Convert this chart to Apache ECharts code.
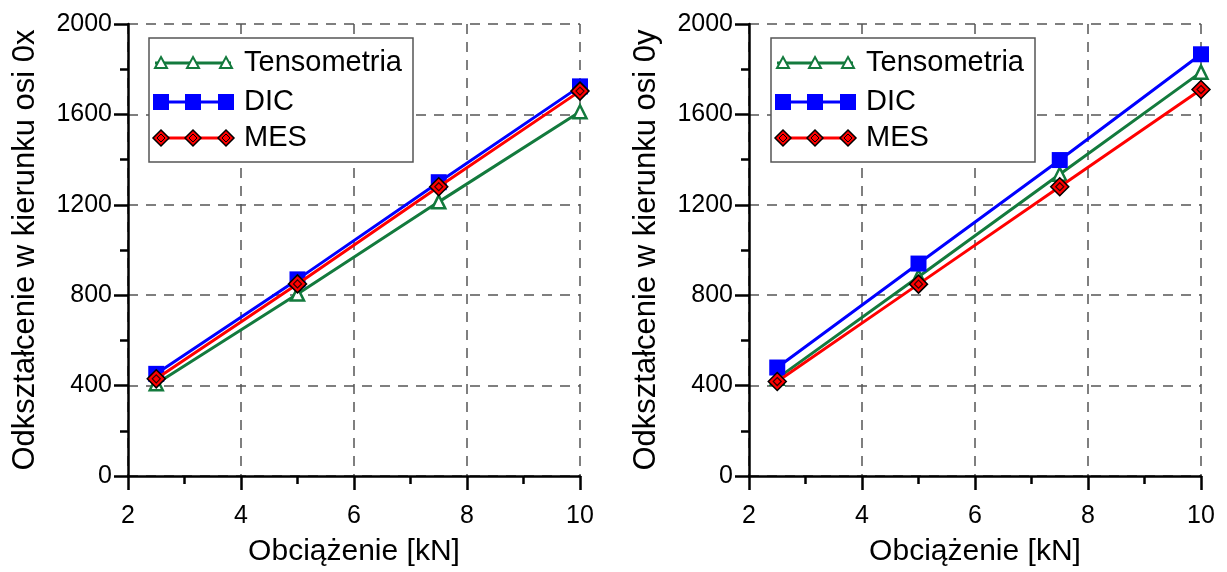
<!DOCTYPE html>
<html>
<head>
<meta charset="utf-8">
<script src="https://cdn.jsdelivr.net/npm/echarts@6/dist/echarts.min.js"></script>
<style>
  html, body { margin: 0; padding: 0; background: #fff; }
  #chart { width: 1227px; height: 572px; }
</style>
</head>
<body>
<div id="chart"></div>
<script>
// data
const loads = [2.5, 5, 7.5, 10]
const xTicks = [2, 4, 6, 8, 10]
const yTicks = [0, 400, 800, 1200, 1600, 2000]
const seriesNames = ["Tensometria", "DIC", "MES"]

// panel 0x
const tensX = [408, 805, 1213, 1612]
const dicX = [452, 870, 1300, 1724]
const mesX = [430, 850, 1280, 1703]
// panel 0y
const tensY = [432, 882, 1335, 1787]
const dicY = [480, 940, 1398, 1866]
const mesY = [418, 849, 1280, 1710]

const GREEN = "#137a3d"
const BLUE = "#0000ff"
const RED = "#ff0000"
const FONT = "Liberation Sans"

const chart = echarts.init(document.getElementById("chart"))

const pairs = (ys) => loads.map((x, i) => [x, ys[i]])

const gridLine = { show: true, lineStyle: { color: "#555", width: 1.5, type: [10, 8] } }

function xAxis(gridIndex) {
  return {
    gridIndex,
    type: "value",
    min: xTicks[0],
    max: xTicks[xTicks.length - 1],
    interval: xTicks[1] - xTicks[0],
    name: "Obciążenie [kN]",
    nameLocation: "middle",
    nameGap: 61,
    nameTextStyle: { fontFamily: FONT, fontSize: 30, color: "#000" },
    axisLine: { show: true, onZero: false, lineStyle: { color: "#000", width: 2.5 } },
    axisTick: { show: true, inside: false, length: 14, lineStyle: { color: "#000", width: 2.5 } },
    minorTick: { show: true, splitNumber: 2, length: 8, lineStyle: { color: "#000", width: 2.5 } },
    axisLabel: { fontFamily: FONT, fontSize: 25, color: "#000", margin: 28, formatter: (v) => String(v) },
    splitLine: gridLine,
  }
}

function yAxis(gridIndex, name) {
  return {
    gridIndex,
    type: "value",
    min: yTicks[0],
    max: yTicks[yTicks.length - 1],
    interval: yTicks[1] - yTicks[0],
    name,
    nameLocation: "middle",
    nameGap: 87,
    nameTextStyle: { fontFamily: FONT, fontSize: 31, color: "#000" },
    axisLine: { show: true, onZero: false, lineStyle: { color: "#000", width: 2.5 } },
    axisTick: { show: true, inside: false, length: 14, lineStyle: { color: "#000", width: 2.5 } },
    minorTick: { show: true, splitNumber: 2, length: 8, lineStyle: { color: "#000", width: 2.5 } },
    axisLabel: { fontFamily: FONT, fontSize: 25, color: "#000", margin: 16, formatter: (v) => String(v) },
    splitLine: gridLine,
  }
}

function panelSeries(idx, tens, dic, mes) {
  return [
    {
      name: seriesNames[0], type: "line", xAxisIndex: idx, yAxisIndex: idx,
      data: pairs(tens), symbol: "triangle", symbolSize: 13,
      lineStyle: { color: GREEN, width: 3 },
      itemStyle: { color: "#fff", borderColor: GREEN, borderWidth: 2.5 },
      z: 3,
    },
    {
      name: seriesNames[1], type: "line", xAxisIndex: idx, yAxisIndex: idx,
      data: pairs(dic), symbol: "rect", symbolSize: 16,
      lineStyle: { color: BLUE, width: 3 },
      itemStyle: { color: BLUE },
      z: 4,
    },
    {
      name: seriesNames[2], type: "line", xAxisIndex: idx, yAxisIndex: idx,
      data: pairs(mes), symbol: "diamond", symbolSize: 18,
      lineStyle: { color: RED, width: 3 },
      itemStyle: { color: RED, borderColor: "#000", borderWidth: 1.5 },
      z: 5,
    },
    {
      // inner outline of the MES diamonds
      type: "scatter", xAxisIndex: idx, yAxisIndex: idx, silent: true,
      data: pairs(mes), symbol: "diamond", symbolSize: 8,
      itemStyle: { color: RED, borderColor: "#000", borderWidth: 1.2 },
      z: 6,
    },
  ]
}

// hand-drawn legend so each entry shows line + three markers
function legendBox(left, top) {
  const els = [{
    type: "rect", shape: { x: left, y: top, width: 264, height: 124 },
    style: { fill: "#fff", stroke: "#555", lineWidth: 1.5 }, z: 50,
  }]
  const rows = [25, 64, 100]
  const mx = [12, 44, 77]
  rows.forEach((dy, r) => {
    const cy = top + dy
    const col = [GREEN, BLUE, RED][r]
    els.push({
      type: "line", shape: { x1: left + 6, y1: cy, x2: left + 82, y2: cy },
      style: { stroke: col, lineWidth: 3 }, z: 51,
    })
    mx.forEach((dx) => {
      const cx = left + dx
      if (r === 0) {
        els.push({
          type: "polygon", shape: { points: [[cx, cy - 6], [cx + 6, cy + 5], [cx - 6, cy + 5]] },
          style: { fill: "#fff", stroke: GREEN, lineWidth: 2 }, z: 52,
        })
      } else if (r === 1) {
        els.push({
          type: "rect", shape: { x: cx - 8, y: cy - 8, width: 16, height: 16 },
          style: { fill: BLUE }, z: 52,
        })
      } else {
        els.push({
          type: "polygon", shape: { points: [[cx, cy - 8], [cx + 8, cy], [cx, cy + 8], [cx - 8, cy]] },
          style: { fill: RED, stroke: "#000", lineWidth: 1.5 }, z: 52,
        })
        els.push({
          type: "polygon", shape: { points: [[cx, cy - 4], [cx + 4, cy], [cx, cy + 4], [cx - 4, cy]] },
          style: { fill: RED, stroke: "#000", lineWidth: 1 }, z: 53,
        })
      }
    })
    els.push({
      type: "text", x: left + 95, y: cy,
      style: { text: seriesNames[r], fontFamily: FONT, fontSize: 29, fill: "#000", verticalAlign: "middle" },
      z: 52,
    })
  })
  return els
}

const option = {
  animation: false,
  backgroundColor: "#fff",
  grid: [
    { left: 128, top: 24, width: 452, height: 452 },
    { left: 749, top: 24, width: 452, height: 452 },
  ],
  xAxis: [xAxis(0), xAxis(1)],
  yAxis: [
    yAxis(0, "Odkształcenie w kierunku osi 0x"),
    yAxis(1, "Odkształcenie w kierunku osi 0y"),
  ],
  series: [
    ...panelSeries(0, tensX, dicX, mesX),
    ...panelSeries(1, tensY, dicY, mesY),
  ],
  graphic: [...legendBox(149, 38), ...legendBox(771, 38)],
}

chart.setOption(option)
</script>
</body>
</html>
